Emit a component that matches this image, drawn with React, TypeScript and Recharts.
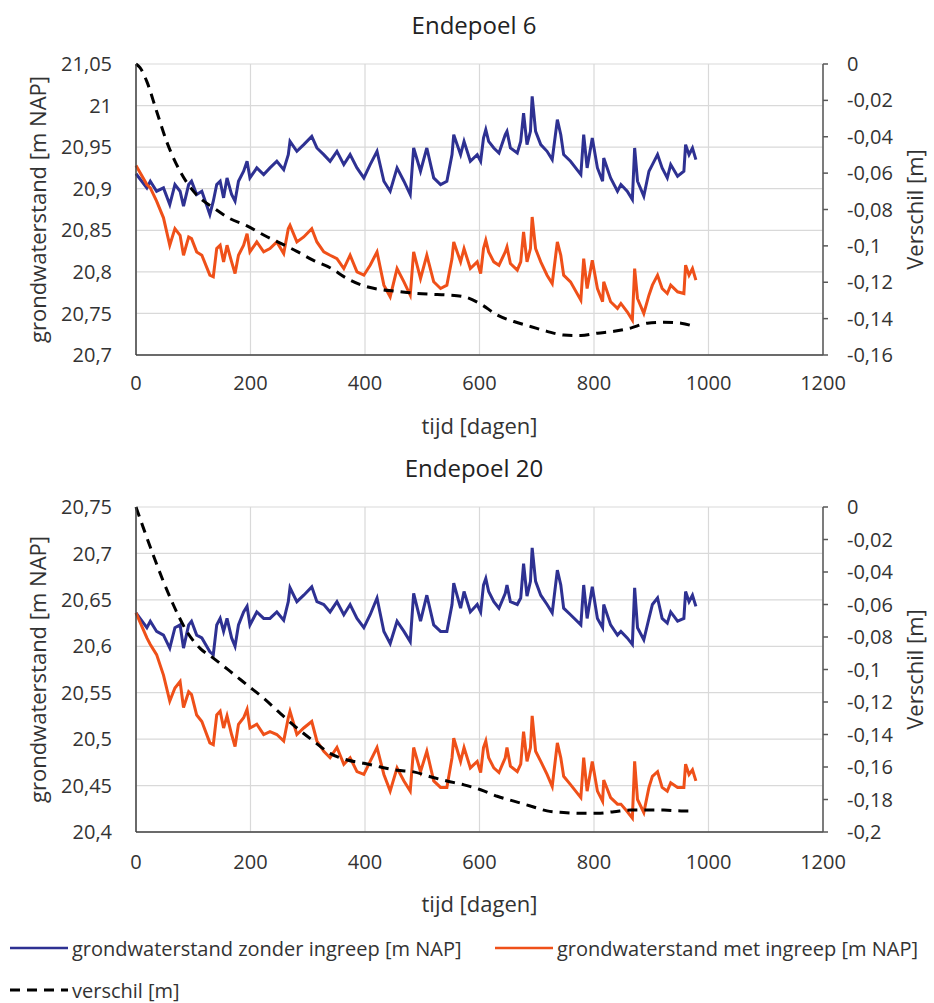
import React from "react";
import { LineChart, Line, XAxis, YAxis, CartesianGrid, Label } from "recharts";

// days at which both groundwater series were read (shared by both panels)
const days = [
  0, 19, 25, 36, 48, 59, 68, 77, 83, 92, 97, 106, 115, 129, 135, 141, 147, 153, 159, 167,
  173, 179, 188, 194, 199, 211, 223, 234, 246, 258, 266, 269, 281, 293, 307, 316, 328, 339, 351, 363,
  374, 386, 398, 409, 421, 433, 444, 456, 468, 479, 485, 497, 508, 520, 532, 543, 552, 555, 567, 573,
  584, 596, 602, 607, 611, 616, 625, 634, 645, 648, 654, 666, 672, 677, 683, 689, 692, 698, 707, 718,
  727, 736, 742, 747, 759, 777, 782, 788, 797, 806, 815, 817, 829, 841, 847, 858, 867, 871, 876, 887,
  896, 902, 911, 919, 928, 934, 946, 957, 960, 966, 972, 978,
];

// Endepoel 6
const zonder6 = [
  20.918, 20.901, 20.909, 20.897, 20.901, 20.881, 20.905, 20.897, 20.879, 20.905, 20.909, 20.893, 20.897, 20.869, 20.885, 20.905, 20.909, 20.889, 20.913, 20.893,
  20.885, 20.909, 20.921, 20.933, 20.913, 20.925, 20.917, 20.925, 20.933, 20.923, 20.941, 20.957, 20.945, 20.953, 20.963, 20.949, 20.941, 20.933, 20.945, 20.929,
  20.941, 20.925, 20.913, 20.929, 20.945, 20.909, 20.897, 20.925, 20.909, 20.893, 20.949, 20.921, 20.949, 20.913, 20.905, 20.909, 20.941, 20.965, 20.941, 20.957,
  20.933, 20.941, 20.933, 20.961, 20.971, 20.957, 20.949, 20.943, 20.965, 20.969, 20.949, 20.943, 20.957, 20.991, 20.953, 20.969, 21.011, 20.969, 20.953, 20.945,
  20.935, 20.983, 20.965, 20.941, 20.933, 20.917, 20.965, 20.925, 20.961, 20.925, 20.909, 20.937, 20.913, 20.897, 20.905, 20.897, 20.887, 20.949, 20.909, 20.891,
  20.921, 20.929, 20.941, 20.925, 20.913, 20.929, 20.915, 20.921, 20.953, 20.941, 20.949, 20.935,
];
const met6 = [
  20.928, 20.905, 20.901, 20.885, 20.865, 20.832, 20.852, 20.844, 20.82, 20.842, 20.84, 20.824, 20.82, 20.796, 20.794, 20.828, 20.832, 20.812, 20.832, 20.812,
  20.798, 20.82, 20.832, 20.846, 20.824, 20.836, 20.824, 20.828, 20.836, 20.822, 20.852, 20.856, 20.836, 20.842, 20.852, 20.836, 20.824, 20.82, 20.816, 20.804,
  20.82, 20.8, 20.796, 20.808, 20.824, 20.784, 20.77, 20.804, 20.788, 20.772, 20.824, 20.792, 20.82, 20.788, 20.78, 20.784, 20.816, 20.836, 20.812, 20.828,
  20.804, 20.812, 20.798, 20.828, 20.838, 20.824, 20.812, 20.808, 20.824, 20.83, 20.81, 20.802, 20.812, 20.848, 20.812, 20.828, 20.866, 20.828, 20.812, 20.796,
  20.786, 20.836, 20.82, 20.796, 20.788, 20.766, 20.816, 20.78, 20.814, 20.78, 20.764, 20.788, 20.764, 20.756, 20.762, 20.752, 20.742, 20.804, 20.768, 20.75,
  20.772, 20.784, 20.796, 20.78, 20.774, 20.784, 20.776, 20.774, 20.808, 20.796, 20.804, 20.79,
];
const diffDays6 = [
  0, 7, 19, 36, 54, 77, 106, 135, 164, 194, 223, 252, 281, 310, 339, 369, 398, 427, 456,
  485, 514, 543, 573, 602, 631, 660, 689, 718, 747, 777, 806, 835, 864, 893, 922, 952, 975,
];
const verschil6 = [
  0, -0.002, -0.0097, -0.026, -0.043, -0.059, -0.072, -0.079, -0.085, -0.089, -0.094, -0.0985, -0.103, -0.108, -0.112, -0.118, -0.122, -0.124, -0.125,
  -0.126, -0.1266, -0.127, -0.128, -0.132, -0.138, -0.1416, -0.1443, -0.147, -0.149, -0.1493, -0.148, -0.147, -0.1452, -0.1425, -0.142, -0.1425, -0.1443,
];

// Endepoel 20
const zonder20 = [
  20.636, 20.62, 20.627, 20.616, 20.612, 20.598, 20.62, 20.623, 20.598, 20.623, 20.627, 20.612, 20.609, 20.594, 20.591, 20.623, 20.63, 20.616, 20.63, 20.609,
  20.6, 20.623, 20.637, 20.643, 20.623, 20.637, 20.63, 20.63, 20.637, 20.628, 20.648, 20.663, 20.648, 20.655, 20.664, 20.648, 20.645, 20.637, 20.648, 20.634,
  20.645, 20.63, 20.62, 20.634, 20.652, 20.616, 20.603, 20.627, 20.616, 20.605, 20.657, 20.627, 20.655, 20.623, 20.616, 20.616, 20.645, 20.668, 20.641, 20.659,
  20.637, 20.645, 20.637, 20.666, 20.673, 20.659, 20.648, 20.641, 20.657, 20.666, 20.648, 20.645, 20.652, 20.689, 20.654, 20.67, 20.706, 20.67, 20.655, 20.645,
  20.636, 20.682, 20.666, 20.641, 20.634, 20.623, 20.666, 20.63, 20.664, 20.63, 20.62, 20.645, 20.623, 20.612, 20.616, 20.609, 20.602, 20.663, 20.62, 20.607,
  20.63, 20.645, 20.652, 20.63, 20.625, 20.637, 20.627, 20.63, 20.659, 20.648, 20.655, 20.643,
];
const met20 = [
  20.636, 20.609, 20.602, 20.591, 20.569, 20.541, 20.555, 20.562, 20.534, 20.551, 20.548, 20.526, 20.519, 20.496, 20.494, 20.526, 20.53, 20.512, 20.525, 20.505,
  20.492, 20.516, 20.523, 20.532, 20.512, 20.516, 20.505, 20.508, 20.505, 20.498, 20.523, 20.53, 20.505, 20.512, 20.519, 20.498, 20.487, 20.48, 20.491, 20.473,
  20.48, 20.465, 20.462, 20.476, 20.491, 20.462, 20.444, 20.469, 20.455, 20.444, 20.491, 20.465, 20.487, 20.455, 20.448, 20.448, 20.48, 20.501, 20.476, 20.491,
  20.469, 20.476, 20.464, 20.491, 20.498, 20.48, 20.469, 20.464, 20.48, 20.491, 20.471, 20.465, 20.473, 20.508, 20.476, 20.491, 20.525, 20.487, 20.476, 20.462,
  20.449, 20.496, 20.48, 20.46, 20.451, 20.437, 20.48, 20.444, 20.476, 20.444, 20.433, 20.456, 20.437, 20.43, 20.43, 20.422, 20.415, 20.476, 20.435, 20.421,
  20.448, 20.46, 20.465, 20.448, 20.444, 20.453, 20.448, 20.448, 20.473, 20.462, 20.467, 20.455,
];
const diffDays20 = [
  0, 13, 30, 48, 65, 89, 112, 135, 164, 194, 223, 252, 281, 310, 339, 369, 398, 427, 456,
  485, 514, 543, 573, 602, 631, 660, 689, 718, 747, 777, 806, 835, 864, 893, 922, 952, 969,
];
const verschil20 = [
  0, -0.013, -0.0295, -0.046, -0.06, -0.0767, -0.087, -0.093, -0.101, -0.1095, -0.1177, -0.127, -0.136, -0.144, -0.1516, -0.1557, -0.1577, -0.16, -0.162,
  -0.163, -0.166, -0.1686, -0.171, -0.174, -0.178, -0.181, -0.184, -0.187, -0.188, -0.1885, -0.1885, -0.1875, -0.1865, -0.1865, -0.1865, -0.187, -0.187,
];

const xTicks = [0, 200, 400, 600, 800, 1000, 1200];
const leftTicks6 = [20.7, 20.75, 20.8, 20.85, 20.9, 20.95, 21, 21.05];
const rightTicks6 = [-0.16, -0.14, -0.12, -0.1, -0.08, -0.06, -0.04, -0.02, 0];
const leftTicks20 = [20.4, 20.45, 20.5, 20.55, 20.6, 20.65, 20.7, 20.75];
const rightTicks20 = [-0.2, -0.18, -0.16, -0.14, -0.12, -0.1, -0.08, -0.06, -0.04, -0.02, 0];

const BLUE = "#2e3192";
const ORANGE = "#ef5019";
const TEXT = "#333333";
const AXIS = "#404040";

const fmt = (v: number) => String(v).replace(".", ",");

interface PanelProps {
  title: string;
  top: number;
  height: number;
  marginTop: number;
  xAxisHeight: number;
  labelOffset: number;
  tickGap: number;
  zonder: number[];
  met: number[];
  diffDays: number[];
  verschil: number[];
  leftTicks: number[];
  rightTicks: number[];
}

function Panel(p: PanelProps) {
  const levels = days.map((d, i) => ({ day: d, zonder: p.zonder[i], met: p.met[i] }));
  const diffRows = p.diffDays.map((d, i) => ({ day: d, verschil: p.verschil[i] }));
  const tickStyle = { fontSize: 20, fill: TEXT };

  return (
    <div style={{ position: "absolute", left: 0, top: p.top, width: 934, height: p.height }}>
      <div
        style={{
          position: "absolute",
          left: 324,
          width: 300,
          top: p.marginTop - 54,
          height: 30,
          lineHeight: "30px",
          textAlign: "center",
          fontSize: 24,
          color: "#222",
        }}
      >
        {p.title}
      </div>
      <LineChart
        width={934}
        height={p.height}
        data={levels}
        margin={{ top: p.marginTop, right: 0, bottom: 0, left: 0 }}
      >
        <CartesianGrid stroke="#d9d9d9" strokeWidth={1.2} yAxisId="left" />
        <XAxis
          dataKey="day"
          type="number"
          domain={[0, 1200]}
          ticks={xTicks}
          interval={0}
          height={p.xAxisHeight}
          tick={tickStyle}
          tickLine={false}
          tickMargin={p.tickGap}
          axisLine={{ stroke: AXIS, strokeWidth: 1.5 }}
        >
          <Label value="tijd [dagen]" position="insideBottom" offset={p.labelOffset} fill={TEXT} fontSize={22} />
        </XAxis>
        <YAxis
          yAxisId="left"
          width={136}
          domain={[p.leftTicks[0], p.leftTicks[p.leftTicks.length - 1]]}
          ticks={p.leftTicks}
          interval={0}
          tickFormatter={fmt}
          tick={tickStyle}
          tickLine={false}
          tickMargin={18}
          axisLine={{ stroke: AXIS, strokeWidth: 1.5 }}
        >
          <Label
            value="grondwaterstand [m NAP]"
            angle={-90}
            position="insideLeft"
            offset={38}
            fill={TEXT}
            fontSize={22}
            style={{ textAnchor: "middle" }}
          />
        </YAxis>
        <YAxis
          yAxisId="right"
          orientation="right"
          width={111}
          domain={[p.rightTicks[0], 0]}
          ticks={p.rightTicks}
          interval={0}
          tickFormatter={fmt}
          tick={tickStyle}
          tickSize={5}
          tickLine={{ stroke: "#595959", strokeWidth: 1.5 }}
          tickMargin={19}
          axisLine={{ stroke: "#595959", strokeWidth: 1.5 }}
        >
          <Label
            value="Verschil [m]"
            angle={-90}
            position="insideRight"
            offset={19}
            fill={TEXT}
            fontSize={22}
            style={{ textAnchor: "middle" }}
          />
        </YAxis>
        <Line
          yAxisId="left"
          dataKey="zonder"
          type="linear"
          stroke={BLUE}
          strokeWidth={3}
          dot={false}
          isAnimationActive={false}
        />
        <Line
          yAxisId="left"
          dataKey="met"
          type="linear"
          stroke={ORANGE}
          strokeWidth={3}
          dot={false}
          isAnimationActive={false}
        />
        <Line
          yAxisId="right"
          data={diffRows}
          dataKey="verschil"
          type="monotone"
          stroke="#000"
          strokeWidth={3}
          strokeDasharray="10 7"
          dot={false}
          isAnimationActive={false}
        />
      </LineChart>
    </div>
  );
}

function LegendRow({ left, top, color, dashed, text }: { left: number; top: number; color: string; dashed?: boolean; text: string }) {
  return (
    <div style={{ position: "absolute", left, top, height: 28, display: "flex", alignItems: "center" }}>
      <svg width={58} height={10} style={{ marginRight: 4 }}>
        <line
          x1={0}
          y1={5}
          x2={58}
          y2={5}
          stroke={color}
          strokeWidth={dashed ? 3 : 2.5}
          strokeDasharray={dashed ? "10 7" : undefined}
        />
      </svg>
      <span style={{ fontSize: 20, color: TEXT, whiteSpace: "nowrap" }}>{text}</span>
    </div>
  );
}

export default function App() {
  return (
    <div
      style={{
        position: "absolute",
        left: 0,
        top: 0,
        width: 934,
        height: 1003,
        background: "#fff",
        fontFamily: "'Open Sans', sans-serif",
        overflow: "hidden",
      }}
    >
      <Panel
        title="Endepoel 6"
        top={0}
        height={460}
        marginTop={64}
        xAxisHeight={105}
        labelOffset={26}
        tickGap={15}
        zonder={zonder6}
        met={met6}
        diffDays={diffDays6}
        verschil={verschil6}
        leftTicks={leftTicks6}
        rightTicks={rightTicks6}
      />
      <Panel
        title="Endepoel 20"
        top={460}
        height={460}
        marginTop={47}
        xAxisHeight={88}
        labelOffset={8}
        tickGap={17}
        zonder={zonder20}
        met={met20}
        diffDays={diffDays20}
        verschil={verschil20}
        leftTicks={leftTicks20}
        rightTicks={rightTicks20}
      />
      <LegendRow left={10} top={934} color={BLUE} text="grondwaterstand zonder ingreep [m NAP]" />
      <LegendRow left={495} top={934} color={ORANGE} text="grondwaterstand met ingreep [m NAP]" />
      <LegendRow left={10} top={976} color="#000" dashed text="verschil [m]" />
    </div>
  );
}
